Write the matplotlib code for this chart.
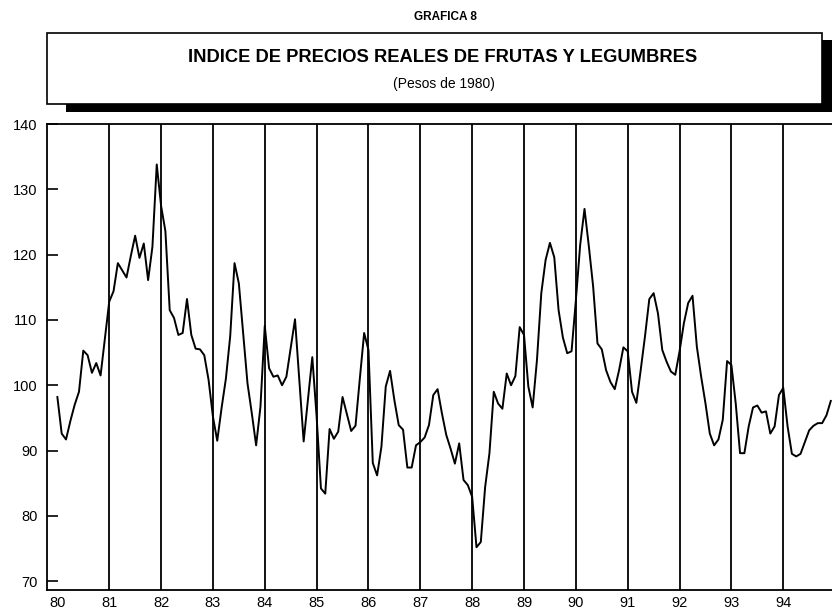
import numpy as np
import matplotlib
matplotlib.use("Agg")
import matplotlib.pyplot as plt
from matplotlib.patches import Rectangle

plt.rcParams['font.family'] = ['Liberation Sans', 'DejaVu Sans']

# === 1. datos mensuales (ene-dic) ===
v1980 = [98.2, 92.6, 91.7, 94.5, 97.0, 99.0, 105.3, 104.6, 101.9, 103.4, 101.5, 107.2]
v1981 = [112.8, 114.4, 118.7, 117.6, 116.5, 119.8, 122.9, 119.5, 121.7, 116.1, 121.2, 133.8]
v1982 = [127.5, 123.6, 111.5, 110.3, 107.7, 108.0, 113.2, 107.7, 105.6, 105.5, 104.6, 100.8]
v1983 = [95.2, 91.5, 96.5, 101.0, 107.5, 118.7, 115.6, 108.0, 100.3, 95.7, 90.8, 96.7]
v1984 = [109.1, 102.6, 101.3, 101.5, 100.0, 101.3, 105.7, 110.1, 100.8, 91.4, 97.9, 104.3]
v1985 = [95.2, 84.2, 83.4, 93.3, 91.8, 92.9, 98.2, 95.6, 93.0, 93.8, 101.0, 108.0]
v1986 = [105.4, 88.1, 86.2, 90.6, 99.8, 102.2, 97.7, 93.9, 93.2, 87.4, 87.4, 90.8]
v1987 = [91.3, 92.0, 93.9, 98.5, 99.4, 95.7, 92.4, 90.3, 88.0, 91.1, 85.5, 84.7]
v1988 = [82.9, 75.2, 76.0, 84.4, 89.6, 99.0, 97.2, 96.4, 101.8, 100.0, 101.4, 108.9]
v1989 = [107.7, 99.8, 96.6, 103.9, 114.1, 119.2, 121.8, 119.6, 111.5, 107.3, 104.9, 105.2]
v1990 = [113.0, 121.5, 127.0, 121.3, 115.1, 106.4, 105.5, 102.3, 100.5, 99.4, 102.3, 105.8]
v1991 = [105.2, 99.0, 97.3, 102.3, 107.5, 113.2, 114.1, 111.0, 105.4, 103.6, 102.1, 101.6]
v1992 = [105.2, 109.5, 112.6, 113.7, 105.9, 101.3, 97.2, 92.6, 90.8, 91.7, 94.7, 103.7]
v1993 = [103.1, 97.2, 89.6, 89.6, 93.7, 96.6, 96.9, 95.8, 96.0, 92.6, 93.7, 98.5]
v1994 = [99.6, 93.7, 89.5, 89.1, 89.5, 91.3, 93.1, 93.8, 94.2, 94.2, 95.4, 97.6]

years = list(range(80, 95))
year_labels = [str(y) for y in years]
grid_years = years[1:]          # lineas verticales 81..94
y_ticks = [70, 80, 90, 100, 110, 120, 130, 140]

values = np.concatenate([v1980, v1981, v1982, v1983, v1984, v1985, v1986, v1987,
                         v1988, v1989, v1990, v1991, v1992, v1993, v1994])
t = 80 + np.arange(len(values)) / 12.0

# === 2. figura ===
fig = plt.figure(figsize=(8.32, 6.09), dpi=100)
W, H = 832.0, 609.0

# encabezado: caja con sombra
fig.patches.append(Rectangle((66 / W, 1 - 112 / H), (850 - 66) / W, 72 / H,
                             transform=fig.transFigure, facecolor='black',
                             edgecolor='none', zorder=0))
fig.patches.append(Rectangle((47 / W, 1 - 104 / H), (822 - 47) / W, 71 / H,
                             transform=fig.transFigure, facecolor='white',
                             edgecolor='black', linewidth=1.2, zorder=1))

fig.text(445 / W, 1 - 17 / H, "GRAFICA 8", ha='center', va='center',
         fontsize=8.5, fontweight='bold')
fig.text(443 / W, 1 - 58 / H, "INDICE DE PRECIOS REALES DE FRUTAS Y LEGUMBRES",
         ha='center', va='center', fontsize=13.2, fontweight='bold')
fig.text(444 / W, 1 - 84 / H, "(Pesos de 1980)", ha='center', va='center',
         fontsize=10)

# === 3. ejes ===
ax = fig.add_axes([47 / W, 1 - 590 / H, (832 - 47) / W, (590 - 124) / H])
ax.plot(t, values, color='black', linewidth=1.4, zorder=3)
ax.vlines(grid_years, 68.65, 140, colors='black', linewidth=1.3, zorder=2)

ax.set_xlim(79.80, 94.94)
ax.set_ylim(68.65, 140)
ax.set_xticks(years)
ax.set_xticklabels(year_labels)
ax.set_yticks(y_ticks)

ax.tick_params(axis='x', length=0, pad=4, labelsize=10.5)
ax.tick_params(axis='y', direction='in', length=8, width=1.2, pad=7, labelsize=10.5)
ax.spines['right'].set_visible(False)
for s in ['left', 'top', 'bottom']:
    ax.spines[s].set_linewidth(1.3)

fig.savefig("out.png", dpi=100)
